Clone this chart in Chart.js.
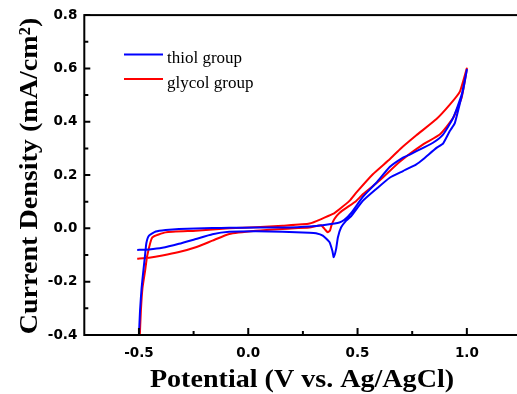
<!DOCTYPE html>
<html lang="en">
<head>
<meta charset="UTF-8">
<title>CV</title>
<style>
    html, body { margin: 0; padding: 0; background: #fff; overflow: hidden; }
    #wrap { position: relative; width: 530px; height: 394px; }
</style>
</head>
<body>
<div id="wrap"><canvas id="myChart" width="530" height="394"></canvas></div>
<script src="https://cdn.jsdelivr.net/npm/chart.js@4.4.0/dist/chart.umd.min.js"></script>
<script>
    // values (potential in V, current density in mA/cm2)
    const seriesNames = ['thiol group', 'glycol group'];
    const seriesColors = ['#0000ff', '#ff0000'];

    const thiolX = [-0.508, -0.454, -0.393, -0.317, -0.240, -0.164, -0.087, 0.035, 0.157, 0.280,
        0.310, 0.341, 0.372, 0.385, 0.391, 0.402, 0.410, 0.425, 0.448, 0.472,
        0.524, 0.586, 0.647, 0.708, 0.769, 0.800, 0.861, 0.891, 0.922, 0.945, 0.968, 0.983, 1.000,
        0.976, 0.937, 0.891, 0.845, 0.800, 0.739, 0.708, 0.647, 0.586, 0.524, 0.472, 0.440, 0.417,
        0.356, 0.280, 0.157, 0.035, -0.087, -0.164, -0.317, -0.378, -0.423, -0.454,
        -0.466, -0.473, -0.480, -0.488, -0.495, -0.501];
    const thiolY = [-0.081, -0.079, -0.073, -0.058, -0.040, -0.022, -0.013, -0.011, -0.013, -0.016,
        -0.018, -0.027, -0.052, -0.085, -0.108, -0.077, -0.034, 0.004, 0.029, 0.047,
        0.103, 0.148, 0.190, 0.215, 0.240, 0.259, 0.302, 0.318, 0.365, 0.395, 0.468, 0.520, 0.595,
        0.501, 0.414, 0.352, 0.321, 0.302, 0.277, 0.265, 0.230, 0.171, 0.118, 0.059, 0.032, 0.022,
        0.014, 0.007, 0.003, 0.003, 0.002, 0.001, -0.002, -0.006, -0.012, -0.027,
        -0.055, -0.108, -0.160, -0.225, -0.307, -0.420];

    const glycolX = [-0.508, -0.454, -0.393, -0.317, -0.240, -0.164, -0.087, 0.035, 0.157, 0.280,
        0.333, 0.351, 0.364, 0.374, 0.381, 0.394, 0.417, 0.494, 0.524,
        0.601, 0.693, 0.800, 0.876, 0.937, 0.976, 1.000,
        0.968, 0.922, 0.861, 0.769, 0.693, 0.647, 0.570, 0.494, 0.463, 0.417, 0.387,
        0.280, 0.157, 0.035, -0.087, -0.240, -0.378, -0.439, -0.462, -0.472, -0.484, -0.491, -0.497];
    const glycolY = [-0.114, -0.110, -0.102, -0.089, -0.071, -0.046, -0.021, -0.009, -0.002, 0.003,
        0.012, -0.004, -0.015, -0.008, 0.012, 0.035, 0.058, 0.103, 0.128,
        0.180, 0.250, 0.315, 0.352, 0.414, 0.490, 0.600,
        0.513, 0.464, 0.410, 0.349, 0.296, 0.259, 0.203, 0.134, 0.103, 0.072, 0.054,
        0.018, 0.010, 0.004, 0.000, -0.009, -0.015, -0.034, -0.102, -0.160, -0.225, -0.307, -0.420];

    const xTicks = [-0.5, 0.0, 0.5, 1.0];
    const xMinorTicks = [-0.25, 0.25, 0.75];
    const yTicks = [-0.4, -0.2, 0.0, 0.2, 0.4, 0.6, 0.8];
    const yMinorTicks = [-0.3, -0.1, 0.1, 0.3, 0.5, 0.7];

    const xTitle = 'Potential (V vs. Ag/AgCl)';
    const yTitle = 'Current Density (mA/cm\u00b2)';

    function puntos(xs, ys) {
        return xs.map((x, i) => ({ x: x, y: ys[i] }));
    }

    const tickFont = { family: '"DejaVu Sans", sans-serif', size: 13.5, weight: 'bold' };

    // frame, inward ticks, legend and axis titles
    const decorado = {
        id: 'decorado',
        afterDraw(chart) {
            const ctx = chart.ctx;
            const a = chart.chartArea;
            const sx = chart.scales.x;
            const sy = chart.scales.y;
            ctx.save();
            ctx.strokeStyle = '#000';
            ctx.lineWidth = 2;
            ctx.strokeRect(a.left, a.top, a.right - a.left, a.bottom - a.top);

            ctx.beginPath();
            xTicks.forEach(v => { const p = sx.getPixelForValue(v); ctx.moveTo(p, a.bottom); ctx.lineTo(p, a.bottom - 7); });
            xMinorTicks.forEach(v => { const p = sx.getPixelForValue(v); ctx.moveTo(p, a.bottom); ctx.lineTo(p, a.bottom - 4); });
            yTicks.forEach(v => { const p = sy.getPixelForValue(v); ctx.moveTo(a.left, p); ctx.lineTo(a.left + 6, p); });
            yMinorTicks.forEach(v => { const p = sy.getPixelForValue(v); ctx.moveTo(a.left, p); ctx.lineTo(a.left + 4, p); });
            ctx.stroke();

            // legend
            ctx.font = '17px "Liberation Serif", "Times New Roman", serif';
            ctx.textAlign = 'left';
            ctx.textBaseline = 'alphabetic';
            seriesNames.forEach((n, i) => {
                const ly = 54.5 + i * 24.5;
                ctx.strokeStyle = seriesColors[i];
                ctx.lineWidth = 2;
                ctx.beginPath();
                ctx.moveTo(124, ly);
                ctx.lineTo(163, ly);
                ctx.stroke();
                ctx.fillStyle = '#000';
                ctx.fillText(n, 167, ly + 8.5);
            });

            // axis titles
            ctx.fillStyle = '#000';
            ctx.font = 'bold 26px "Liberation Serif", "Times New Roman", serif';
            ctx.textAlign = 'center';
            ctx.save();
            ctx.translate(302, 387);
            ctx.scale(1.08, 1);
            ctx.fillText(xTitle, 0, 0);
            ctx.restore();

            ctx.save();
            ctx.translate(37, 176);
            ctx.rotate(-Math.PI / 2);
            ctx.scale(1.08, 1);
            ctx.fillText(yTitle, 0, 0);
            ctx.restore();

            ctx.restore();
        }
    };

    const ctx = document.getElementById('myChart').getContext('2d');
    const grafico = new Chart(ctx, {
        type: 'scatter',
        data: {
            datasets: [
                {
                    label: seriesNames[0],
                    data: puntos(thiolX, thiolY),
                    borderColor: seriesColors[0],
                    backgroundColor: seriesColors[0],
                    borderWidth: 2,
                    showLine: true,
                    pointRadius: 0,
                    tension: 0.15,
                    clip: 1,
                },
                {
                    label: seriesNames[1],
                    data: puntos(glycolX, glycolY),
                    borderColor: seriesColors[1],
                    backgroundColor: seriesColors[1],
                    borderWidth: 2,
                    showLine: true,
                    pointRadius: 0,
                    tension: 0.15,
                    clip: 1,
                },
            ],
        },
        options: {
            responsive: false,
            animation: false,
            layout: { padding: { top: 13, right: 8.5, left: 0, bottom: 0 } },
            plugins: {
                legend: { display: false },
                tooltip: { enabled: false },
            },
            scales: {
                x: {
                    type: 'linear',
                    min: -0.75,
                    max: 1.25,
                    grid: { display: false, drawTicks: false },
                    border: { display: false },
                    afterBuildTicks: (s) => { s.ticks = xTicks.map(v => ({ value: v })); },
                    afterFit: (s) => { s.height = 59; },
                    ticks: {
                        color: '#000',
                        font: tickFont,
                        padding: 10,
                        maxRotation: 0,
                        callback: (v) => Number(v).toFixed(1),
                    },
                },
                y: {
                    type: 'linear',
                    min: -0.4,
                    max: 0.8,
                    grid: { display: false, drawTicks: false },
                    border: { display: false },
                    afterBuildTicks: (s) => { s.ticks = yTicks.map(v => ({ value: v })); },
                    afterFit: (s) => { s.width = 84.3; },
                    ticks: {
                        color: '#000',
                        font: tickFont,
                        padding: 7,
                        callback: (v) => Number(v).toFixed(1),
                    },
                },
            },
        },
        plugins: [decorado],
    });
</script>
</body>
</html>
